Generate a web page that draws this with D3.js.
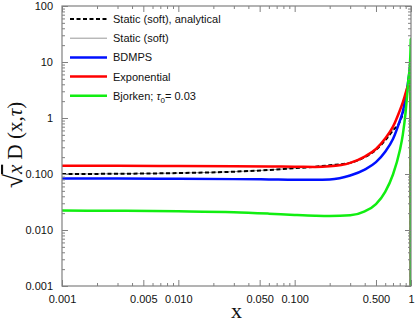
<!DOCTYPE html>
<html>
<head>
<meta charset="utf-8">
<script src="https://cdn.jsdelivr.net/npm/d3@7"></script>
<style>
  body { margin: 0; background: #fff; }
  text { font-family: "Liberation Sans", Arial, sans-serif; }
</style>
</head>
<body>
<svg id="chart" width="415" height="330"></svg>
<script>
// sample positions (x) shared by every series
var xVals = [0.001, 0.003, 0.01, 0.03, 0.06, 0.1, 0.15, 0.2, 0.3, 0.4, 0.5, 0.6, 0.7, 0.8, 0.85, 0.9, 0.93, 0.95, 0.97, 0.98, 0.99, 0.995, 1];

// sqrt(x) D(x,tau)
var staticAnalytical = [0.100, 0.101, 0.104, 0.110, 0.118, 0.127, 0.135, 0.143, 0.158, 0.20, 0.27, 0.40, 0.60, 0.85, 1.2, 2.2, 3.2, 4.5, 6.5, 8, 9, 9.5, 1e-5];
var staticSoft       = [0.100, 0.101, 0.104, 0.110, 0.118, 0.127, 0.135, 0.143, 0.158, 0.20, 0.27, 0.40, 0.60, 0.85, 1.2, 2.2, 3.2, 4.5, 6.5, 8, 9, 9.5, 1e-5];
var bdmps            = [0.083, 0.083, 0.082, 0.081, 0.080, 0.079, 0.079, 0.080, 0.094, 0.12, 0.163, 0.25, 0.42, 0.88, 1.3, 2.4, 3.5, 4.8, 6.5, 8, 9, 9.5, 1e-5];
var exponential      = [0.140, 0.140, 0.139, 0.138, 0.136, 0.135, 0.134, 0.137, 0.158, 0.205, 0.28, 0.43, 0.70, 1.35, 1.9, 2.8, 3.5, 3.8, 4.0, 4.0, 4.0, 4.0, 1e-5];
var bjorken          = [0.0222, 0.0220, 0.0216, 0.0208, 0.0196, 0.0186, 0.0180, 0.0178, 0.0183, 0.0215, 0.029, 0.048, 0.098, 0.26, 0.5, 1.3, 2.8, 5, 7, 9.5, 16, 26, 1e-5];

var xTickVals = [0.001, 0.005, 0.01, 0.05, 0.1, 0.5, 1];
var xTickLabels = ["0.001", "0.005", "0.010", "0.050", "0.100", "0.500", "1"];
var yTickVals = [0.001, 0.01, 0.1, 1, 10, 100];
var yTickLabels = ["0.001", "0.010", "0.100", "1", "10", "100"];

var series = [
    {name: "Static (soft), analytical", values: staticAnalytical, color: "#000", width: 2, dash: "4,2.5"},
    {name: "Static (soft)", values: staticSoft, color: "#999", width: 1, dash: null},
    {name: "BDMPS", values: bdmps, color: "#0010ff", width: 2.5, dash: null},
    {name: "Exponential", values: exponential, color: "#ff0000", width: 2.5, dash: null},
    {name: "Bjorken", values: bjorken, color: "#11ee11", width: 2.5, dash: null}
];
// drawing order: grey, dashed black, blue, red, green
var drawOrder = [1, 0, 2, 3, 4];

var margin = {top: 6, right: 4, bottom: 44, left: 62},
    W = 415 - margin.left - margin.right,
    H = 330 - margin.top - margin.bottom;

var svg = d3.select("#chart");
var g = svg.append("g").attr("transform", "translate(" + margin.left + "," + margin.top + ")");

var x = d3.scaleLog().domain([0.001, 1]).range([0, W]);
var y = d3.scaleLog().domain([0.001, 100]).range([H, 0]);

// minor tick values (2..9 per decade)
function minors(lo, hi) {
    var out = [];
    for (var e = Math.log10(lo); e < Math.log10(hi); e++) {
        for (var k = 2; k <= 9; k++) out.push(k * Math.pow(10, e));
    }
    return out;
}
var xMinor = minors(0.001, 1).filter(function (v) { return xTickVals.indexOf(+v.toPrecision(3)) < 0; });
var yMinor = minors(0.001, 100);

svg.append("defs").append("clipPath").attr("id", "clip")
    .append("rect").attr("width", W).attr("height", H);

// curves
var line = d3.line()
    .x(function (d) { return x(d[0]); })
    .y(function (d) { return y(d[1]); })
    .curve(d3.curveMonotoneX);

var plot = g.append("g").attr("clip-path", "url(#clip)");
drawOrder.forEach(function (i) {
    var s = series[i];
    plot.append("path")
        .datum(xVals.map(function (xv, j) { return [xv, s.values[j]]; }))
        .attr("fill", "none")
        .attr("stroke", s.color)
        .attr("stroke-width", s.width)
        .attr("stroke-dasharray", s.dash)
        .attr("d", line);
});

// axes: ticks point inward on all four sides
var frameColor = "#808080";
function styleAxis(sel) {
    sel.select(".domain").remove();
    sel.selectAll("line").attr("stroke", frameColor);
    sel.selectAll("text").attr("fill", "#111").style("font-size", "11px");
}

g.append("g").attr("transform", "translate(0," + H + ")")
    .call(d3.axisBottom(x).tickValues(xTickVals).tickSize(-6).tickPadding(9)
        .tickFormat(function (d, i) { return xTickLabels[i]; }))
    .call(styleAxis);
g.append("g").attr("transform", "translate(0," + H + ")")
    .call(d3.axisBottom(x).tickValues(xMinor).tickSize(-3).tickFormat(""))
    .call(styleAxis);
g.append("g")
    .call(d3.axisTop(x).tickValues(xTickVals).tickSize(-6).tickFormat(""))
    .call(styleAxis);
g.append("g")
    .call(d3.axisTop(x).tickValues(xMinor).tickSize(-3).tickFormat(""))
    .call(styleAxis);

g.append("g")
    .call(d3.axisLeft(y).tickValues(yTickVals).tickSize(-6).tickPadding(9)
        .tickFormat(function (d, i) { return yTickLabels[i]; }))
    .call(styleAxis);
g.append("g")
    .call(d3.axisLeft(y).tickValues(yMinor).tickSize(-3).tickFormat(""))
    .call(styleAxis);
g.append("g").attr("transform", "translate(" + W + ",0)")
    .call(d3.axisRight(y).tickValues(yTickVals).tickSize(-6).tickFormat(""))
    .call(styleAxis);
g.append("g").attr("transform", "translate(" + W + ",0)")
    .call(d3.axisRight(y).tickValues(yMinor).tickSize(-3).tickFormat(""))
    .call(styleAxis);

g.append("rect")
    .attr("width", W).attr("height", H)
    .attr("fill", "none")
    .attr("stroke", frameColor)
    .attr("stroke-width", 1.2);

// legend
var legend = g.append("g").attr("transform", "translate(8,13)");
var rowH = 19.2;
series.forEach(function (s, i) {
    var row = legend.append("g").attr("transform", "translate(0," + (i * rowH) + ")");
    row.append("line")
        .attr("x1", 0).attr("x2", 37)
        .attr("stroke", s.color)
        .attr("stroke-width", s.width)
        .attr("stroke-dasharray", s.dash);
    var t = row.append("text").attr("x", 43).attr("y", 4)
        .style("font-size", "11px").attr("fill", "#111");
    if (s.name === "Bjorken") {
        t.append("tspan").text("Bjorken; ");
        t.append("tspan").style("font-style", "italic").text("τ");
        t.append("tspan").attr("dy", 3).style("font-size", "8px").text("0");
        t.append("tspan").attr("dy", -3).text("= 0.03");
    } else {
        t.text(s.name);
    }
});

// axis titles
var serif = "'Liberation Serif', 'DejaVu Serif', serif";
var yl = svg.append("text")
    .attr("transform", "translate(22,145) rotate(-90)")
    .attr("text-anchor", "middle")
    .style("font-family", serif)
    .style("font-size", "21px")
    .attr("fill", "#111");
yl.append("tspan").style("font-size", "26px").text("√");
yl.append("tspan").style("font-style", "italic").style("text-decoration", "overline").text("x");
yl.append("tspan").text(" D (x,");
yl.append("tspan").style("font-style", "italic").text("τ");
yl.append("tspan").text(")");

svg.append("text")
    .attr("x", margin.left + W / 2).attr("y", 318)
    .attr("text-anchor", "middle")
    .style("font-family", serif)
    .style("font-size", "22px")
    .attr("fill", "#111")
    .text("x");
</script>
</body>
</html>
